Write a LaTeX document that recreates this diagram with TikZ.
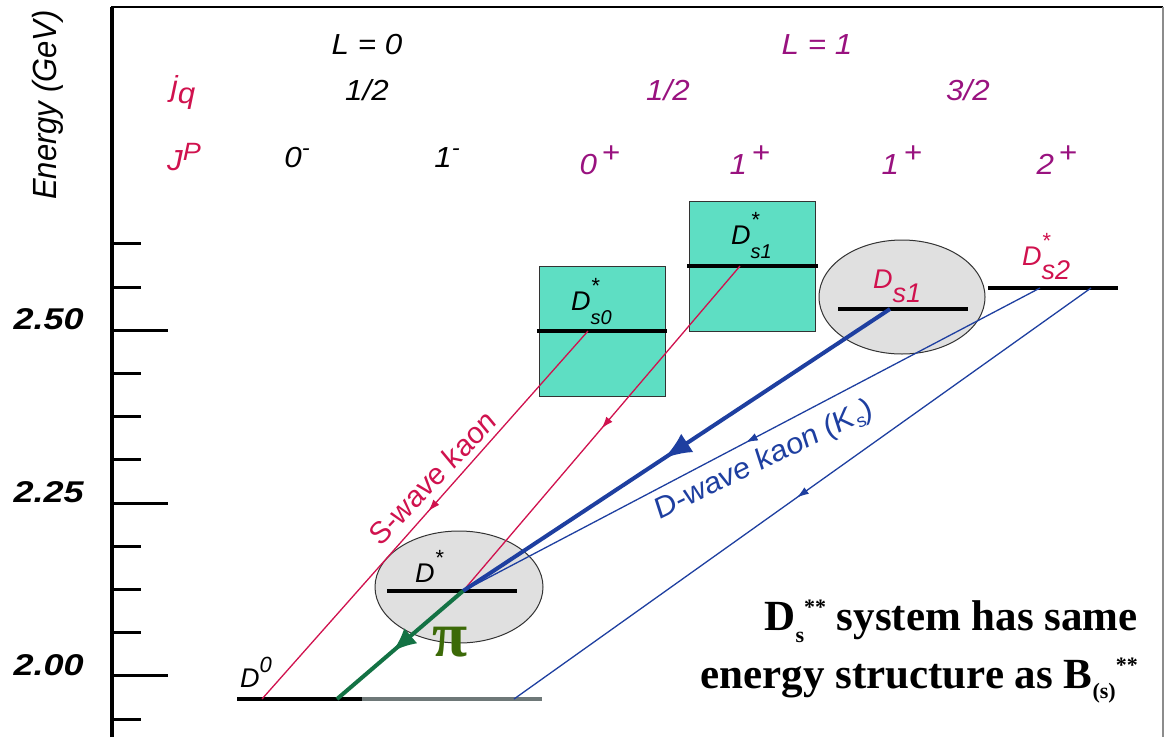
\documentclass[tikz,border=0pt]{standalone}
\usepackage{fontspec}
\setmainfont{Liberation Sans}
\newfontfamily\timesface{Liberation Serif}
\usepackage{xcolor}
\usetikzlibrary{arrows.meta,shapes.geometric,decorations.markings}
\definecolor{LevelRed}{HTML}{D0124E}
\definecolor{LevelPurple}{HTML}{99127F}
\definecolor{KaonBlue}{HTML}{1E3FA0}
\definecolor{PionGreen}{HTML}{137244}
\definecolor{PiText}{HTML}{3C6A08}
\definecolor{BoxTeal}{HTML}{5EDEC3}
\definecolor{BlobGrey}{HTML}{E0E0E0}
\definecolor{ShelfGrey}{HTML}{6E7878}

% D-meson label: star on top, subscript below
\newcommand{\Dstate}[2]{\textit{D}\rlap{\raisebox{17pt}{\fontsize{22}{22}\selectfont #1}}\raisebox{-14pt}{\itshape #2}}
\newcommand{\spinpar}[2]{\textit{#1}\raisebox{12pt}{#2}}

\begin{document}
\begin{tikzpicture}[
  x=1pt, y=-1pt,
  txt/.style={font=\fontsize{29}{32}\selectfont\itshape, inner sep=0pt, xscale=1.08},
  stlbl/.style={font=\fontsize{27}{30}\selectfont\itshape, inner sep=0pt, anchor=base west},
  tick/.style={font=\fontsize{30}{30}\selectfont\bfseries\itshape, inner sep=0pt, xscale=1.2, anchor=east},
  level/.style={line width=4pt},
  tealbox/.style={draw=black!80, fill=BoxTeal, line width=1pt, minimum width=126pt, minimum height=130pt, inner sep=0pt},
  blob/.style={ellipse, draw=black!80, fill=BlobGrey, line width=1pt, inner sep=0pt},
  kaonS/.style={draw=LevelRed, line width=1.3pt, postaction={decorate},
    decoration={markings, mark=at position #1 with {\arrow[LevelRed]{Latex[length=12pt,width=8pt]}}}},
  kaonD/.style={draw=KaonBlue, line width=1.3pt, postaction={decorate},
    decoration={markings, mark=at position #1 with {\arrow[KaonBlue]{Latex[length=12pt,width=8pt]}}}},
  kaonP/.style={draw=KaonBlue, line width=4pt, postaction={decorate},
    decoration={markings, mark=at position #1 with {\arrow[KaonBlue]{Latex[length=28pt,width=22pt]}}}},
  pion/.style={draw=PionGreen, line width=4pt, postaction={decorate},
    decoration={markings, mark=at position #1 with {\arrow[PionGreen]{Latex[length=24pt,width=20pt]}}}}
]
  \useasboundingbox (0,0) rectangle (1164,737);

  % frame and energy axis
  \draw[line width=4pt] (112,737) -- (112,6.5);
  \draw[line width=2pt] (111,6.5) -- (1163,6.5);
  \draw[line width=1.5pt, black!45] (1163,6.5) -- (1163,737);
  \foreach \k in {0,...,11}
    \draw[line width=3pt] (112,243.8+43.2*\k) -- ++(29,0);
  \foreach \k in {2,6,10}
    \draw[line width=3pt] (112,243.8+43.2*\k) -- ++(56,0);
  \node[txt, font=\fontsize{31}{31}\selectfont\itshape, xscale=1, rotate=90] (elab) at (48,105) {Energy (GeV)};
  \node[tick] (t250) at (84,319) {2.50};
  \node[tick] (t225) at (84,492) {2.25};
  \node[tick] (t200) at (84,665) {2.00};

  % quantum numbers
  \node[txt] (L0) at (367,45) {L = 0};
  \node[txt, LevelPurple] (L1) at (817,45) {L = 1};
  \node[txt, LevelRed] (jq) at (183,92) {j\raisebox{-7pt}{q}};
  \node[txt] (jl0) at (367,90) {1/2};
  \node[txt, LevelPurple] (jl1a) at (668,90) {1/2};
  \node[txt, LevelPurple] (jl1b) at (968,90) {3/2};
  \node[txt, LevelRed] (jp) at (184,157) {J\raisebox{10pt}{\fontsize{25}{25}\selectfont P}};
  \node[txt] (p0m) at (297,158) {\spinpar{0}{\fontsize{22}{22}\selectfont -}};
  \node[txt] (p1m) at (447,158) {\spinpar{1}{\fontsize{22}{22}\selectfont -}};
  \node[txt, LevelPurple] (p0p) at (600,160) {\spinpar{0\,}{\upshape +}};
  \node[txt, LevelPurple] (p1p) at (750,160) {\spinpar{1\,}{\upshape +}};
  \node[txt, LevelPurple] (p1pp) at (902,160) {\spinpar{1\,}{\upshape +}};
  \node[txt, LevelPurple] (p2p) at (1057,160) {\spinpar{2\,}{\upshape +}};

  % states
  \node[tealbox] (box0) at (602,331) {};
  \node[tealbox] (box1) at (752.5,266) {};
  \node[blob, minimum width=168pt, minimum height=112pt] (dstblob) at (459,587) {};
  \node[blob, minimum width=166pt, minimum height=114pt] (ds1blob) at (902,297) {};

  \draw[level] (237,699) -- (362,699);
  \draw[level, ShelfGrey] (362,699) -- (542,699);
  \draw[level] (387,591) -- (517,591);
  \draw[level] (537,331) -- (667,331);
  \draw[level] (687,266) -- (818,266);
  \draw[level] (838,309) -- (968,309);
  \draw[level] (988,288) -- (1118,288);

  \node[stlbl] (ld0) at (240,687) {D\raisebox{15pt}{\fontsize{22}{22}\selectfont 0}};
  \node[stlbl] (ldst) at (415,582) {\Dstate{*}{}};
  \node[stlbl] (lds0) at (571,310) {\Dstate{*}{\fontsize{20}{20}\selectfont s0}};
  \node[stlbl] (lds1s) at (731,244) {\Dstate{*}{\fontsize{20}{20}\selectfont s1}};
  \node[stlbl, LevelRed] (lds1) at (873,288) {\Dstate{}{\fontsize{27}{27}\selectfont s1}};
  \node[stlbl, LevelRed] (lds2) at (1022,265) {\Dstate{*}{\fontsize{27}{27}\selectfont s2}};

  % decay points
  \coordinate (d0k) at (262,699);
  \coordinate (d0pi) at (337,699);
  \coordinate (d0far) at (514,699);
  \coordinate (dst) at (463,591);
  \coordinate (ds0) at (588,331);
  \coordinate (ds1s) at (740,266);
  \coordinate (ds1) at (890,309);
  \coordinate (ds2a) at (1040,288);
  \coordinate (ds2b) at (1091,288);

  % transitions
  \draw[kaonS=.49] (ds0) -- (d0k);
  \draw[kaonS=.50] (ds1s) -- (dst);
  \draw[kaonD=.51] (ds2a) -- (dst);
  \draw[kaonD=.51] (ds2b) -- (d0far);
  \draw[kaonP=.53] (ds1) -- (dst);
  \draw[pion=.56] (dst) -- (d0pi);

  \node[txt, xscale=1, font=\fontsize{28.5}{30}\selectfont\itshape, LevelRed, rotate=48.5] (swave) at (432,478) {S-wave kaon};
  \node[txt, xscale=1, font=\fontsize{29}{30}\selectfont\itshape, KaonBlue, rotate=27.7] (dwave) at (764,461) {D-wave kaon (K\raisebox{-5pt}{\fontsize{18}{18}\selectfont s})};
  \node[font=\timesface\bfseries\fontsize{64}{64}\selectfont, PiText, inner sep=0pt] (pi) at (450,642) {π};

  \node[font=\timesface\bfseries\fontsize{43}{58}\selectfont, align=right, anchor=base east, inner sep=0pt] (note) at (1138,688)
    {D\raisebox{-12pt}{\fontsize{22}{22}\selectfont s}\raisebox{16pt}{\fontsize{22}{22}\selectfont **} system has same\\
     energy structure as B\raisebox{-10pt}{\fontsize{22}{22}\selectfont (s)}\raisebox{16pt}{\fontsize{22}{22}\selectfont **}};
\end{tikzpicture}
\end{document}
